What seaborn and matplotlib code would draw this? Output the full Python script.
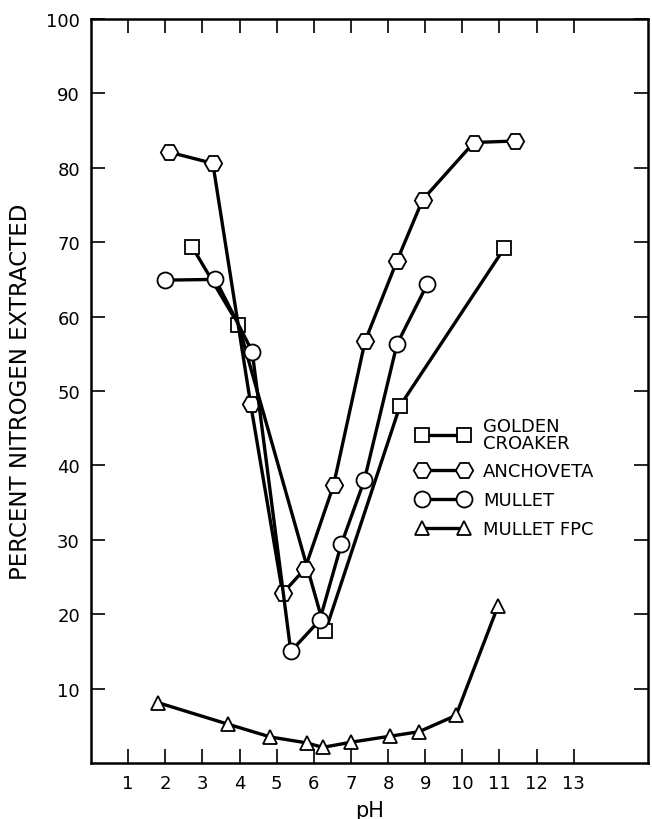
import matplotlib
matplotlib.use("Agg")
import matplotlib.pyplot as plt
import seaborn as sns
from matplotlib.lines import Line2D

# pH / percent nitrogen extracted
croaker_ph = [2.72, 3.97, 6.31, 8.32, 11.13]
croaker_n = [69.4, 58.9, 17.7, 48.0, 69.2]

anchoveta_ph = [2.11, 3.28, 4.30, 5.16, 5.76, 6.53, 7.38, 8.24, 8.93, 10.31, 11.41]
anchoveta_n = [82.1, 80.6, 48.2, 22.8, 26.1, 37.3, 56.7, 67.5, 75.7, 83.4, 83.6]

mullet_ph = [1.98, 3.35, 4.34, 5.38, 6.16, 6.74, 7.36, 8.24, 9.06]
mullet_n = [64.9, 65.0, 55.3, 15.0, 19.2, 29.4, 38.0, 56.3, 64.4]

fpc_ph = [1.81, 3.70, 4.83, 5.81, 6.24, 7.01, 8.05, 8.83, 9.83, 10.96]
fpc_n = [8.1, 5.2, 3.5, 2.7, 2.1, 2.8, 3.6, 4.2, 6.4, 21.1]

x_ticks = list(range(1, 14))
y_ticks = list(range(10, 101, 10))

sns.set_style("ticks", {"text.color": "black", "xtick.color": "black",
                        "ytick.color": "black", "axes.edgecolor": "black",
                        "axes.labelcolor": "black"})
plt.rcParams['font.family'] = ['DejaVu Sans']

fig = plt.figure(figsize=(6.52, 8.2), dpi=100)
ax = fig.add_axes([0.1396, 0.0683, 0.8543, 0.9073])

series = [
    ("GOLDEN\nCROAKER", croaker_ph, croaker_n, "s", 9.5),
    ("ANCHOVETA", anchoveta_ph, anchoveta_n, "H", 12.5),
    ("MULLET", mullet_ph, mullet_n, "o", 11.5),
    ("MULLET FPC", fpc_ph, fpc_n, "^", 10),
]

handles = []
for label, xs, ys, mk, ms in series:
    sns.lineplot(x=xs, y=ys, ax=ax, color="black", linewidth=2.4,
                 marker=mk, markersize=ms, markerfacecolor="white",
                 markeredgecolor="black", markeredgewidth=1.3,
                 estimator=None, sort=False)
    handles.append(Line2D([], [], color="black", linewidth=2.4, marker=mk,
                          markersize=ms, markerfacecolor="white",
                          markeredgecolor="black", markeredgewidth=1.3,
                          label=label))

ax.set_xlim(0, 15)
ax.set_ylim(0, 100)
ax.set_xticks(x_ticks)
ax.set_yticks(y_ticks)
ax.tick_params(direction="in", top=True, right=True, length=10, width=1.2,
               labelsize=13, pad=8, colors="black")
for sp in ax.spines.values():
    sp.set_linewidth(1.8)
    sp.set_visible(True)

ax.set_xlabel("pH", fontsize=15, labelpad=6)
ax.set_ylabel("PERCENT NITROGEN EXTRACTED", fontsize=16.5, labelpad=10)

leg = ax.legend(handles=handles, loc="upper left", bbox_to_anchor=(0.585, 0.465),
                frameon=False, numpoints=2, fontsize=13, handlelength=2.9,
                handletextpad=0.75, labelspacing=0.6, borderpad=0,
                borderaxespad=0)
for t in leg.get_texts():
    t.set_linespacing(0.9)

fig.savefig("out.png", dpi=100)
